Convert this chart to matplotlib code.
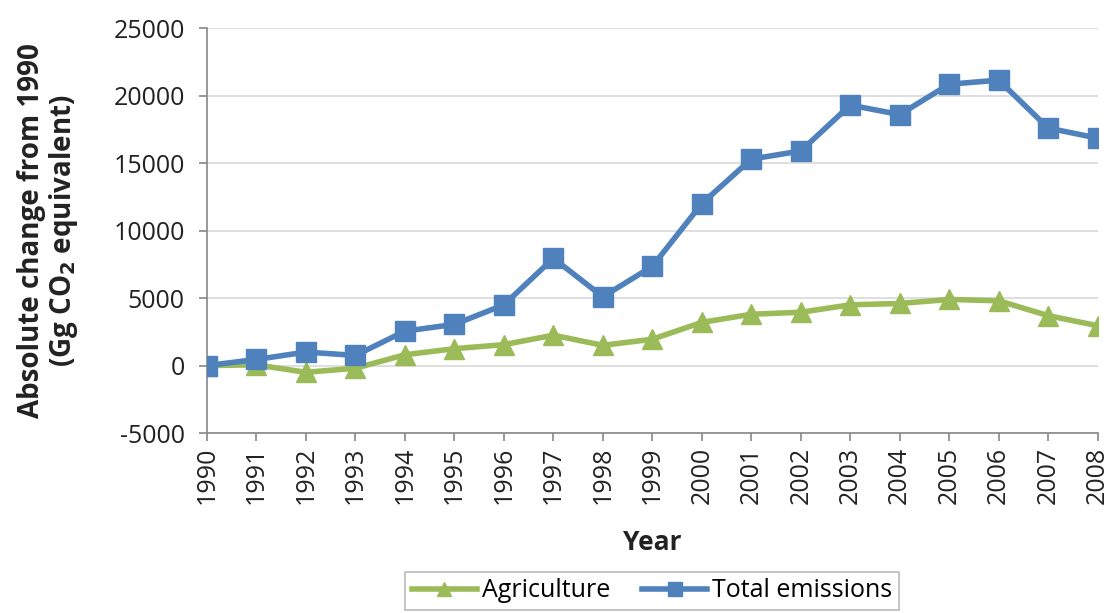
import matplotlib
matplotlib.use("Agg")
import matplotlib.pyplot as plt

plt.rcParams['font.family'] = ['Open Sans', 'DejaVu Sans']
plt.rcParams['axes.unicode_minus'] = False

# Data
years = list(range(1990, 2009))
agriculture = [0, 50, -500, -200, 800, 1250, 1550, 2250, 1500, 1950,
               3200, 3800, 3950, 4500, 4600, 4900, 4800, 3700, 2950]
total = [0, 450, 1000, 750, 2550, 3050, 4500, 7950, 5100, 7350,
         12000, 15300, 15900, 19300, 18600, 20850, 21150, 17600, 16850]

C_AGR = '#9BBB59'
C_TOT = '#4F81BD'

fig = plt.figure(figsize=(11.11, 6.13), dpi=100)
ax = fig.add_axes([0.1863, 0.2936, 0.8017, 0.6604])

ax.plot(years, agriculture, color=C_AGR, linewidth=4, marker='^',
        markersize=14, label='Agriculture', zorder=3)
ax.plot(years, total, color=C_TOT, linewidth=4, marker='s',
        markersize=14, label='Total emissions', zorder=4)

ax.set_xlim(1990, 2008)
ax.set_ylim(-5000, 25000)
ax.set_yticks(range(-5000, 25001, 5000))
ax.set_xticks(years)
ax.set_xticklabels([str(y) for y in years], rotation=90, fontsize=18, color='#222222')
ax.tick_params(axis='y', labelsize=18, labelcolor='#222222', pad=10)
ax.tick_params(axis='both', color='#888888', length=6, width=1.2)
ax.tick_params(axis='x', pad=4)

ax.grid(True, axis='y', color='#d9d9d9', linewidth=1.2)
ax.set_axisbelow(True)
for s in ['top', 'right']:
    ax.spines[s].set_visible(False)
for s in ['left', 'bottom']:
    ax.spines[s].set_color('#888888')
    ax.spines[s].set_linewidth(1.2)

ax.set_xlabel('Year', fontsize=19, fontweight='bold', color='#222222', labelpad=18)
ax.set_ylabel('Absolute change from 1990\n(Gg CO$_\\mathbf{2}$ equivalent)', fontsize=20,
              fontweight='bold', color='#222222', labelpad=24, linespacing=1.05)

leg = fig.legend(loc='lower center', bbox_to_anchor=(0.587, -0.015), ncol=2,
                 fontsize=18, frameon=True, fancybox=False, edgecolor='#aaaaaa',
                 handlelength=2.6, columnspacing=1.3, handletextpad=0.2,
                 borderpad=0.25, markerscale=0.75)
leg.get_frame().set_linewidth(1.2)

fig.savefig('out.png', dpi=100)
